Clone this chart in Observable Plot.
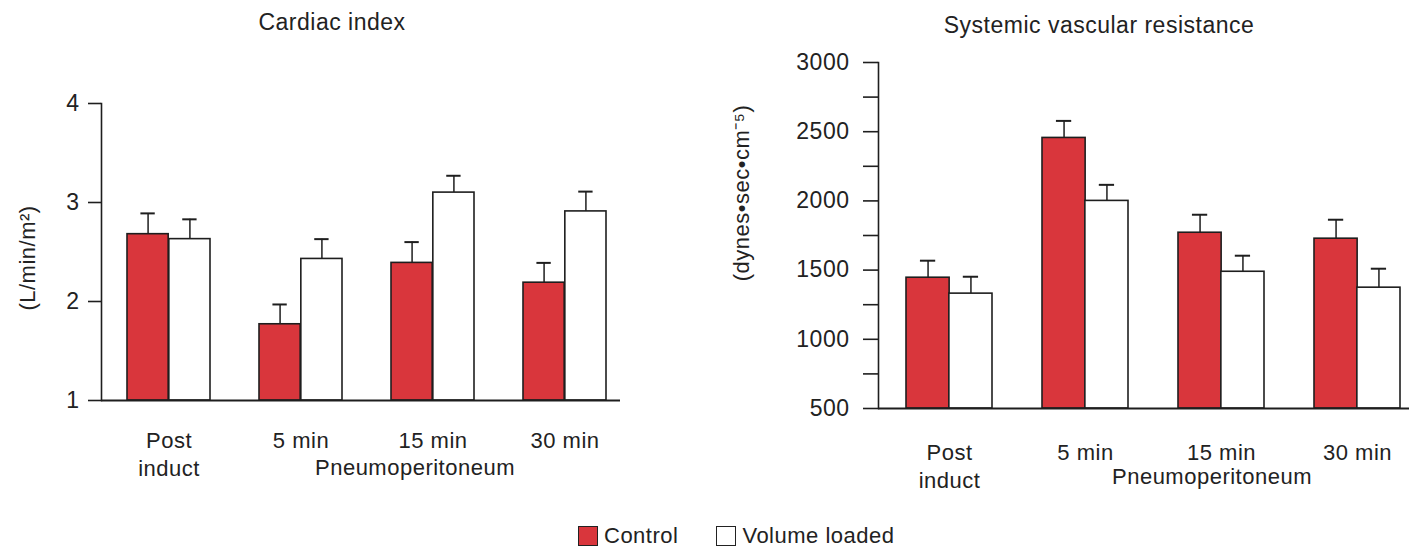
<!DOCTYPE html>
<html><head><meta charset="utf-8">
<script src="https://cdn.jsdelivr.net/npm/d3@7"></script>
<script src="https://cdn.jsdelivr.net/npm/@observablehq/plot@0.6"></script>
<style>
body{margin:0;background:#fff;font-family:"Liberation Sans",Arial,sans-serif;color:#222}
#root{position:relative;width:1409px;height:549px;overflow:hidden;background:#fff}
.abs{position:absolute;white-space:nowrap;line-height:1;letter-spacing:0.5px}
.chart{position:absolute;top:0}
.title{font-size:23px;transform:translateX(-50%)}
.ylab{font-size:22px;transform:translate(-50%,-50%) rotate(-90deg)}
.xlab{font-size:22px;transform:translateX(-50%)}
.leg{font-size:22px;display:flex;align-items:center}
.sw{display:inline-block;width:20px;height:20px;border:1.5px solid #222;box-sizing:border-box;margin-right:6px}
</style></head><body><div id="root"></div>
<script>
// ---- data ----
const categories = ["Post induct", "5 min", "15 min", "30 min"];
const series = ["Control", "Volume loaded"];
const seriesColors = ["#d9363c", "#ffffff"];

const ciControl = [2.68, 1.77, 2.39, 2.19];
const ciControlErr = [0.21, 0.20, 0.21, 0.20];
const ciVolume = [2.63, 2.43, 3.10, 2.91];
const ciVolumeErr = [0.20, 0.20, 0.17, 0.20];
const ciTicks = [1, 2, 3, 4];

const svrControl = [1445, 2455, 1770, 1727];
const svrControlErr = [123, 123, 130, 137];
const svrVolume = [1330, 2000, 1488, 1373];
const svrVolumeErr = [122, 116, 116, 137];
const svrTicks = [500, 1000, 1500, 2000, 2500, 3000];
const svrMinorTicks = [750, 1250, 1750, 2250, 2750];

const catLabel = d => d === "Post induct" ? "Post\ninduct" : d;

function rowsOf(ctrl, ctrlErr, vol, volErr) {
  const rows = [];
  categories.forEach((c, i) => {
    rows.push({category: c, series: series[0], value: ctrl[i], err: ctrlErr[i]});
    rows.push({category: c, series: series[1], value: vol[i], err: volErr[i]});
  });
  return rows;
}

function chart(o) {
  const pInner = 0.37;
  const bw = (o.xRange[1] - o.xRange[0]) / (categories.length - pInner) * (1 - pInner);
  const half = bw / 2, cap = 7.5;
  const ink = "#1e1e1e";
  const A = o.rows.filter(d => d.series === series[0]);
  const B = o.rows.filter(d => d.series === series[1]);
  const marks = [
    Plot.ruleX(A, {x: "category", y1: "value", y2: d => d.value + d.err, dx: -half / 2, stroke: ink, strokeWidth: 1.5}),
    Plot.ruleX(B, {x: "category", y1: "value", y2: d => d.value + d.err, dx: half / 2, stroke: ink, strokeWidth: 1.5}),
    Plot.tickY(A, {x: "category", y: d => d.value + d.err, insetLeft: bw / 4 - cap, insetRight: 3 * bw / 4 - cap, stroke: ink, strokeWidth: 2}),
    Plot.tickY(B, {x: "category", y: d => d.value + d.err, insetLeft: 3 * bw / 4 - cap, insetRight: bw / 4 - cap, stroke: ink, strokeWidth: 2}),
    Plot.barY(A, {x: "category", y1: o.base, y2: "value", insetRight: half, fill: seriesColors[0], stroke: ink, strokeWidth: 1.6}),
    Plot.barY(B, {x: "category", y1: o.base, y2: "value", insetLeft: half, fill: seriesColors[1], stroke: ink, strokeWidth: 1.6}),
    Plot.ruleY([o.base], {stroke: ink, strokeWidth: 2}),
    Plot.frame({anchor: "left", stroke: ink, strokeWidth: 1.6}),
    Plot.axisY({ticks: o.ticks, tickFormat: d => String(d), tickSize: o.tickSize, tickPadding: o.tickPadding, label: null, stroke: ink, strokeWidth: 1.6, fontSize: o.yFont, fill: "#222"}),
    Plot.axisX({tickSize: 0, tickPadding: o.xPad, lineAnchor: "top", lineHeight: 1.27, label: null, tickFormat: catLabel, fontSize: 22, fill: "#222"})
  ];
  if (o.minor) marks.push(Plot.axisY({ticks: o.minor, tickSize: o.tickSize, tickFormat: () => "", label: null, stroke: ink, strokeWidth: 1.6}));
  return Plot.plot({
    width: o.width, height: o.height,
    marginLeft: o.marginLeft, marginRight: o.marginRight, marginTop: o.marginTop, marginBottom: o.marginBottom,
    style: {fontFamily: '"Liberation Sans", Arial, sans-serif', fontSize: "22px", color: "#222", background: "transparent", overflow: "visible", letterSpacing: "0.5px"},
    x: {type: "band", domain: categories, range: o.xRange, paddingInner: pInner, paddingOuter: 0},
    y: {domain: o.yDomain},
    marks
  });
}

const root = document.getElementById("root");

const left = chart({
  rows: rowsOf(ciControl, ciControlErr, ciVolume, ciVolumeErr),
  width: 700, height: 500, marginLeft: 101, marginRight: 80, marginTop: 103, marginBottom: 100,
  xRange: [126, 608], yDomain: [1, 4], base: 1, ticks: ciTicks, tickSize: 13, tickPadding: 9, xPad: 28, yFont: 23
});
left.classList.add("chart"); left.style.left = "0px";
root.appendChild(left);

const right = chart({
  rows: rowsOf(svrControl, svrControlErr, svrVolume, svrVolumeErr),
  width: 709, height: 500, marginLeft: 178, marginRight: 0, marginTop: 62, marginBottom: 92,
  xRange: [206, 700], yDomain: [500, 3000], base: 500, ticks: svrTicks, minor: svrMinorTicks, tickSize: 15, tickPadding: 14, xPad: 32, yFont: 23
});
right.classList.add("chart"); right.style.left = "700px";
root.appendChild(right);

function addText(cls, text, x, y, extra) {
  const d = document.createElement("div");
  d.className = "abs " + cls;
  d.textContent = text;
  d.style.left = x + "px"; d.style.top = y + "px";
  if (extra) Object.assign(d.style, extra);
  root.appendChild(d);
  return d;
}
addText("title", "Cardiac index", 332, 11);
addText("title", "Systemic vascular resistance", 1099, 14);
addText("ylab", "(L/min/m²)", 28, 258);
addText("ylab", "(dynes•sec•cm⁻⁵)", 742, 193);
addText("xlab", "Pneumoperitoneum", 415, 457);
addText("xlab", "Pneumoperitoneum", 1212, 466);

const leg = document.createElement("div");
leg.className = "abs leg";
leg.style.left = "578px"; leg.style.top = "525px";
series.forEach((s, i) => {
  const item = document.createElement("span");
  item.style.display = "inline-flex"; item.style.alignItems = "center";
  item.style.marginRight = i === 0 ? "38px" : "0";
  const sw = document.createElement("span");
  sw.className = "sw"; sw.style.background = seriesColors[i];
  item.appendChild(sw);
  item.appendChild(document.createTextNode(s));
  leg.appendChild(item);
});
root.appendChild(leg);
</script>
</body></html>
